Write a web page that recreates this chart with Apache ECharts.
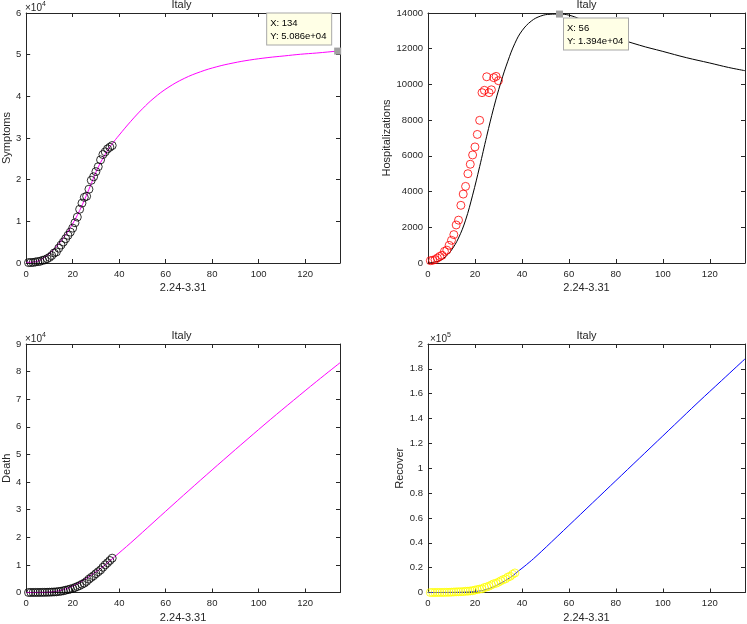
<!DOCTYPE html>
<html><head><meta charset="utf-8">
<script src="https://cdn.jsdelivr.net/npm/echarts@6/dist/echarts.min.js"></script>
<style>html,body{margin:0;padding:0;background:#fff}#c{width:747px;height:624px}</style>
</head><body><div id="c"></div>
<script>
// ---- data ----
const obsDays = [1,2,3,4,5,6,7,8,9,10,11,12,13,14,15,16,17,18,19,20,21,22,23,24,25,26,27,28,29,30,31,32,33,34,35,36,37];
const hospDays = [1,2,3,4,5,6,7,8,9,10,11,12,13,14,15,16,17,18,19,20,21,22,23,24,25,26,27,28,29,30];

const symptomsObs = [101,114,128,248,345,401,639,742,1034,1346,1790,2394,2651,3557,4316,5038,5838,6650,7426,8372,9663,11025,12894,14363,15757,16020,17708,19846,20692,21937,23112,24753,26029,26676,27386,27795,28192];
const hospObs = [130,150,190,280,370,430,650,720,990,1270,1590,2130,2400,3230,3860,4290,5000,5530,6050,6500,7200,7990,9540,9670,10430,9540,9700,10380,10450,10210];
const deathObs = [7,10,12,17,21,29,34,52,79,107,148,197,233,366,463,631,827,1016,1266,1441,1809,2158,2503,2978,3405,4032,4825,5476,6077,6820,7503,8165,9134,10023,10779,11591,12428];
const recoverObs = [1,1,3,45,46,50,83,149,160,276,414,523,589,622,724,1004,1045,1258,1439,1966,2335,2749,2941,4025,4440,5129,6072,7024,7432,8326,9362,10361,10950,12384,13030,14620,15729];

// model curves
const symModelX = [0,4,8,11,15,19,23,27,31,35,37,40,45,50,55,61,68,75,82,89,96,104,111,118,125,134,135];
const symModelY = [150,300,1400,2800,5300,8500,12600,17700,23000,27000,28600,30700,34000,37000,39600,42100,44300,45900,47100,48000,48700,49300,49700,50100,50400,50860,50890];

const hospModelX = [0,5,8,10,13,16,19,22,25,28,31,34,37,40,44,48,52,56,60,65,70,80,90,100,110,120,128,135];
const hospModelY = [0,130,420,720,1400,2400,3800,5400,7100,8700,10100,11300,12300,13000,13550,13830,13930,13940,13880,13650,13350,12650,12200,11850,11500,11200,10950,10770];

const deathModelX = [0,5,10,14,18,22,26,30,34,38,45,55,65,75,85,95,105,115,125,135];
const deathModelY = [0,20,150,600,1600,3200,5200,7500,10000,12900,18000,25600,33200,40700,48100,55400,62600,69600,76500,83200];

const recModelX = [0,10,20,25,30,35,38,42,46,55,65,75,85,95,105,115,125,135];
const recModelY = [0,100,800,2500,6500,12000,16500,22500,29000,45000,63000,81000,99000,117000,135000,153000,170500,188000];

const tipSym = [134, 50860];
const tipHosp = [56, 13940];

const xTicks = {min:0, max:135, interval:20};
const yRanges = [
  {min:0, max:60000, interval:10000, div:1e4},
  {min:0, max:14000, interval:2000, div:1},
  {min:0, max:90000, interval:10000, div:1e4},
  {min:0, max:200000, interval:20000, div:1e5}
];
const yNames = ['Symptoms','Hospitalizations','Death','Recover'];
const xName = '2.24-3.31';
const title = 'Italy';

// ---- layout ----
const grids = [
  {left:23, top:13, width:317, height:250},
  {left:428, top:13, width:317, height:250},
  {left:23, top:344, width:317, height:251},
  {left:428, top:344, width:317, height:251}
];
const yNameGaps = [12.5, 35.5, 12.5, 21];
const FONT = '"Liberation Sans", Arial, Helvetica, sans-serif';
const AX = '#262626';
const TICK_FS = 9.5;

const pairs = (xs, ys) => ys.map((v,i)=>[xs[i], v]);
const fmtY = (div) => (v) => div === 1 ? String(v) : String(+(v/div).toFixed(1));
const expFmt = (v) => { const s = v.toExponential(3); return s.replace(/e([+-])(\d)$/, 'e$10$2'); };

const xAxis = [], yAxis = [];
grids.forEach((g, i) => {
  xAxis.push({
    type:'value', gridIndex:i, min:xTicks.min, max:xTicks.max, interval:xTicks.interval,
    position:'bottom',
    axisLine:{show:true, onZero:false, lineStyle:{color:AX, width:1}},
    axisTick:{show:true, inside:true, length:4, lineStyle:{color:AX}},
    axisLabel:{color:AX, fontSize:TICK_FS, fontFamily:FONT, margin:6, showMaxLabel:false},
    splitLine:{show:false},
    name:xName, nameLocation:'middle', nameGap:19.5,
    nameTextStyle:{color:AX, fontSize:11, fontFamily:FONT}
  });
  xAxis.push({
    type:'value', gridIndex:i, min:xTicks.min, max:xTicks.max, interval:xTicks.interval,
    position:'top',
    axisLine:{show:true, onZero:false, lineStyle:{color:AX, width:1}},
    axisTick:{show:true, inside:true, length:4, lineStyle:{color:AX}},
    axisLabel:{show:false}, splitLine:{show:false}
  });
  const r = yRanges[i];
  yAxis.push({
    type:'value', gridIndex:i, min:r.min, max:r.max, interval:r.interval, position:'left',
    axisLine:{show:true, onZero:false, lineStyle:{color:AX, width:1}},
    axisTick:{show:true, inside:true, length:4, lineStyle:{color:AX}},
    axisLabel:{color:AX, fontSize:TICK_FS, fontFamily:FONT, margin:5, formatter:fmtY(r.div)},
    splitLine:{show:false},
    name:yNames[i], nameLocation:'middle', nameGap:yNameGaps[i],
    nameTextStyle:{color:AX, fontSize:11, fontFamily:FONT}
  });
  yAxis.push({
    type:'value', gridIndex:i, min:r.min, max:r.max, interval:r.interval, position:'right',
    axisLine:{show:true, onZero:false, lineStyle:{color:AX, width:1}},
    axisTick:{show:true, inside:true, length:4, lineStyle:{color:AX}},
    axisLabel:{show:false}, splitLine:{show:false}
  });
});

const circle = (color) => ({color:'transparent', borderColor:color, borderWidth:1});
const TIP_W = 58, TIP_H = 26;
const tipLabel = (xy, pos) => ({
  show:true, position:pos, align:'left', verticalAlign:'top',
  width:TIP_W, height:TIP_H, overflow:'none',
  formatter: 'X: ' + xy[0] + '\nY: ' + expFmt(xy[1]),
  color:'#000', fontSize:9.5, fontFamily:FONT, lineHeight:13,
  backgroundColor:'#ffffe6', borderColor:'#a8a8a8', borderWidth:1, padding:[3,3,2,3]
});

const series = [
  {type:'line', xAxisIndex:0, yAxisIndex:0, data:pairs(symModelX, symModelY), smooth:0.4,
   showSymbol:false, lineStyle:{color:'#ff00ff', width:1}, z:2,
   markPoint:{symbol:'rect', symbolSize:7, itemStyle:{color:'#a0a0a0'}, silent:true,
     data:[{coord:tipSym}], label:tipLabel(tipSym, [-(TIP_W + 6 + 3), -(TIP_H + 5 + 3)])}},
  {type:'scatter', xAxisIndex:0, yAxisIndex:0, data:pairs(obsDays, symptomsObs), symbol:'circle', symbolSize:8,
   itemStyle:circle('#000'), z:3},

  {type:'line', xAxisIndex:2, yAxisIndex:2, data:pairs(hospModelX, hospModelY), smooth:0.4,
   showSymbol:false, lineStyle:{color:'#000', width:1}, z:2,
   markPoint:{symbol:'rect', symbolSize:7, itemStyle:{color:'#a0a0a0'}, silent:true,
     data:[{coord:tipHosp}], label:tipLabel(tipHosp, [8,8])}},
  {type:'scatter', xAxisIndex:2, yAxisIndex:2, data:pairs(hospDays, hospObs), symbol:'circle', symbolSize:8,
   itemStyle:circle('#ff0000'), z:3},

  {type:'line', xAxisIndex:4, yAxisIndex:4, data:pairs(deathModelX, deathModelY), smooth:0.4,
   showSymbol:false, lineStyle:{color:'#ff00ff', width:1}, z:2},
  {type:'scatter', xAxisIndex:4, yAxisIndex:4, data:pairs(obsDays, deathObs), symbol:'circle', symbolSize:8,
   itemStyle:circle('#000'), z:3},

  {type:'line', xAxisIndex:6, yAxisIndex:6, data:pairs(recModelX, recModelY), smooth:0.4,
   showSymbol:false, lineStyle:{color:'#0000ff', width:1}, z:2},
  {type:'scatter', xAxisIndex:6, yAxisIndex:6, data:pairs(obsDays, recoverObs), symbol:'circle', symbolSize:8,
   itemStyle:circle('#ffff00'), z:3}
];

// titles and exponent labels
const graphic = [];
grids.forEach((g, i) => {
  graphic.push({type:'text', x:g.left + g.width/2, y:g.top - 8,
    style:{text:title, fill:AX, font:'11px ' + FONT, align:'center', verticalAlign:'middle'}});
});
const expo = [[0,'4'],[2,'4'],[3,'5']];
expo.forEach(([i, p]) => {
  const g = grids[i];
  graphic.push({type:'text', x:g.left + 2, y:g.top - 5,
    style:{text:'\u00d710', fill:AX, font:'10px ' + FONT, align:'left', verticalAlign:'middle'}});
  graphic.push({type:'text', x:g.left + 19, y:g.top - 9,
    style:{text:p, fill:AX, font:'7px ' + FONT, align:'left', verticalAlign:'middle'}});
});

const chart = echarts.init(document.getElementById('c'), null, {renderer:'canvas'});
chart.setOption({
  animation:false, backgroundColor:'#fff',
  grid:grids.map(g => Object.assign({containLabel:false}, g)),
  xAxis, yAxis, series, graphic
});
</script></body></html>
